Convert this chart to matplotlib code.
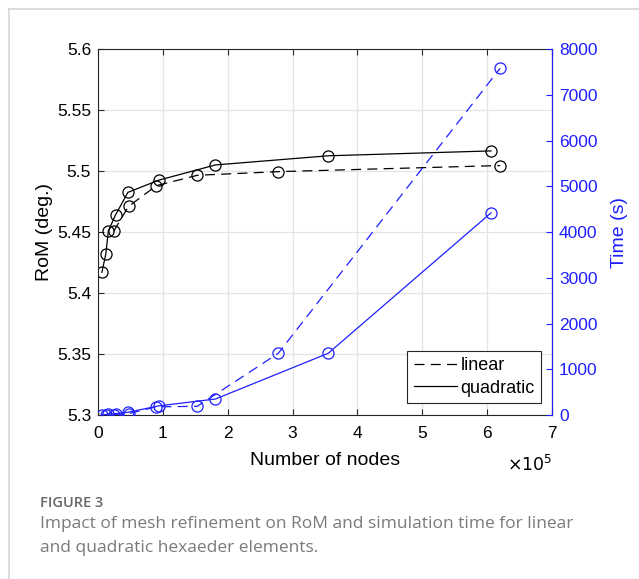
import matplotlib
matplotlib.use("Agg")
import matplotlib.pyplot as plt
from matplotlib.lines import Line2D

# ---- data (nodes in units of 1e5) ----
quad_nodes = [0.06, 0.12, 0.16, 0.27, 0.46, 0.935, 1.81, 3.55, 6.06]
quad_rom = [5.417, 5.432, 5.451, 5.464, 5.4825, 5.4925, 5.505, 5.5125, 5.5165]
quad_time = [5, 10, 20, 30, 60, 200, 350, 1350, 4420]

lin_nodes = [0.24, 0.47, 0.90, 1.53, 2.78, 6.20]
lin_rom = [5.4505, 5.471, 5.488, 5.4965, 5.4995, 5.5045]
lin_time = [10, 30, 180, 190, 1350, 7580]

x_ticks = [0, 1, 2, 3, 4, 5, 6, 7]
rom_ticks = [5.3, 5.35, 5.4, 5.45, 5.5, 5.55, 5.6]
time_ticks = [0, 1000, 2000, 3000, 4000, 5000, 6000, 7000, 8000]

BLUE = "#1f1fff"
AXCOL = "#262626"
TICK_FS = 12.5
LABEL_FS = 14
DASH = (0, (8, 5))

plt.rcParams["font.family"] = ["Liberation Sans", "DejaVu Sans"]

fig = plt.figure(figsize=(6.39, 5.79), dpi=100)
ax = fig.add_axes([0.1534, 0.2832, 0.7105, 0.6321])
ax2 = ax.twinx()

# RoM curves (left axis)
ax.plot(lin_nodes, lin_rom, color="black", ls=DASH, lw=0.9,
        marker="o", mfc="none", ms=8, mew=0.9)
ax.plot(quad_nodes, quad_rom, color="black", ls="-", lw=0.9,
        marker="o", mfc="none", ms=8, mew=0.9)

# time curves (right axis)
ax2.plot(lin_nodes, lin_time, color=BLUE, ls=DASH, lw=0.9,
         marker="o", mfc="none", ms=8, mew=0.9)
ax2.plot(quad_nodes, quad_time, color=BLUE, ls="-", lw=0.9,
         marker="o", mfc="none", ms=8, mew=0.9)

ax.set_xlim(0, 7)
ax.set_ylim(5.3, 5.6)
ax2.set_ylim(0, 8000)
ax.set_xticks(x_ticks)
ax.set_yticks(rom_ticks)
ax.set_yticklabels([f"{v:g}" for v in rom_ticks])
ax2.set_yticks(time_ticks)

ax.grid(True, color="#e4e4e4", lw=0.9)
ax.set_axisbelow(True)

ax.tick_params(axis="both", direction="in", length=4, width=0.8, colors=AXCOL,
               labelsize=TICK_FS, labelcolor="black", top=True, pad=5)
ax.tick_params(axis="x", pad=8)
ax.tick_params(axis="y", right=False)
ax2.tick_params(axis="y", direction="in", length=4, width=0.8, colors=BLUE,
                labelsize=TICK_FS, labelcolor=BLUE, pad=5)
for s in ["left", "top", "bottom"]:
    ax.spines[s].set_color(AXCOL)
    ax.spines[s].set_linewidth(0.8)
ax2.spines["right"].set_color(BLUE)
ax2.spines["right"].set_linewidth(0.8)
for s in ["left", "top", "bottom"]:
    ax2.spines[s].set_visible(False)

ax.set_xlabel("Number of nodes", fontsize=LABEL_FS, labelpad=8)
ax.set_ylabel("RoM (deg.)", fontsize=LABEL_FS, labelpad=3)
ax2.set_ylabel("Time (s)", fontsize=LABEL_FS, color=BLUE, rotation=90, labelpad=10)

ax.text(1.0, -0.135, r"$\times10^{5}$", transform=ax.transAxes,
        ha="right", va="center", fontsize=TICK_FS)

handles = [Line2D([], [], color="black", ls=DASH, lw=0.9),
           Line2D([], [], color="black", ls="-", lw=0.9)]
leg = ax2.legend(handles, ["linear", "quadratic"], loc="lower right",
                 bbox_to_anchor=(0.976, 0.033), borderaxespad=0,
                 fontsize=LABEL_FS - 1,
                 handlelength=2.4, handletextpad=0.2, borderpad=0.35,
                 labelspacing=0.3, fancybox=False, framealpha=1)
leg.get_frame().set_edgecolor(AXCOL)
leg.get_frame().set_linewidth(0.8)

# page frame lines
fig.add_artist(Line2D([9 / 639, 1], [1 - 9 / 579, 1 - 9 / 579],
                      transform=fig.transFigure, color="#d6d6d6", lw=1.2))
fig.add_artist(Line2D([9 / 639, 9 / 639], [0, 1 - 9 / 579],
                      transform=fig.transFigure, color="#d6d6d6", lw=1.2))

# caption
cap_font = ["Open Sans", "DejaVu Sans"]
fig.text(40 / 639, 1 - 503 / 579, "FIGURE 3", fontsize=10.5, color="#666666",
         fontweight="semibold", family=cap_font, va="center", ha="left")
fig.text(40 / 639, 1 - 524 / 579,
         "Impact of mesh refinement on RoM and simulation time for linear",
         fontsize=12.5, color="#7a7a7a", family=cap_font, va="center", ha="left")
fig.text(40 / 639, 1 - 548 / 579, "and quadratic hexaeder elements.",
         fontsize=12.5, color="#7a7a7a", family=cap_font, va="center", ha="left")

fig.savefig("out.png", dpi=100)
